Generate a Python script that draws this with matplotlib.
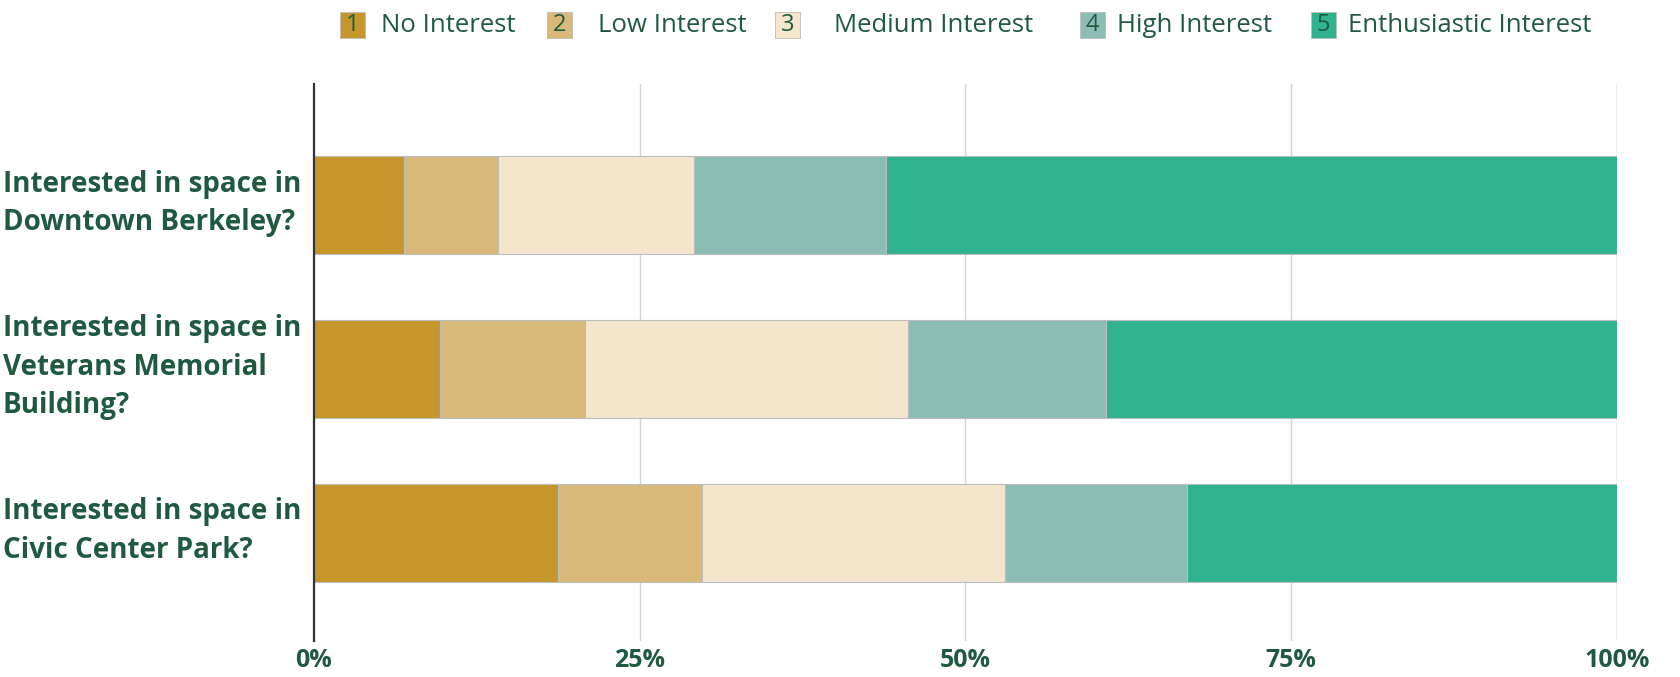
import matplotlib.pyplot as plt
from matplotlib.patches import Rectangle
from matplotlib.transforms import ScaledTranslation
import numpy as np

# data (percent of respondents)
questions = [
    "Interested in space in\nDowntown Berkeley?",
    "Interested in space in\nVeterans Memorial\nBuilding?",
    "Interested in space in\nCivic Center Park?",
]
levels = ["No Interest", "Low Interest", "Medium Interest", "High Interest", "Enthusiastic Interest"]
no_interest = [6.9, 9.7, 18.7]
low_interest = [7.2, 11.1, 11.1]
medium_interest = [15.1, 24.8, 23.2]
high_interest = [14.7, 15.2, 14.0]
enthusiastic_interest = [56.1, 39.2, 33.0]
xticks = [0, 25, 50, 75, 100]

colors = ["#C4962C", "#D8B97A", "#F4E6CC", "#8BBDB4", "#2EB38E"]
text_color = "#1F5A3F"
font = "Open Sans"

series = [no_interest, low_interest, medium_interest, high_interest, enthusiastic_interest]

fig = plt.figure(figsize=(16.81, 6.77), dpi=100)
ax = fig.add_axes([314 / 1681, 1 - 641 / 677, (1617 - 314) / 1681, (641 - 84) / 677])

y = np.arange(len(questions))
left = np.zeros(len(questions))
for vals, c in zip(series, colors):
    ax.barh(y, vals, left=left, height=0.6, color=c, edgecolor="#BDBDBD", linewidth=0.8, zorder=3)
    left += np.array(vals)

ax.set_xlim(0, 100)
ax.set_ylim(2.66, -0.74)
ax.set_xticks(xticks)
ax.set_xticklabels([f"{t}%" for t in xticks], fontsize=18, fontweight="bold",
                   color=text_color, family=font)
ax.tick_params(axis="x", length=0, pad=5)
for t in xticks[1:]:
    ax.axvline(t, color="#D3D3D3" if t < 100 else "#A0A0A0", linewidth=1, zorder=1)

ax.set_yticks(y)
ax.set_yticklabels(questions, fontsize=20, fontweight="bold", color=text_color,
                   family=font, ha="left", linespacing=1.43)
ax.tick_params(axis="y", length=0, pad=224)
shift = ScaledTranslation(0, 10 / 100, fig.dpi_scale_trans)
for lbl in ax.get_yticklabels():
    lbl.set_transform(lbl.get_transform() + shift)

for s in ["top", "right", "bottom"]:
    ax.spines[s].set_visible(False)
ax.spines["left"].set_color("#333333")
ax.spines["left"].set_linewidth(1.6)
ax.spines["left"].set_zorder(4)

# legend across the top with numbered swatches
sq_left = [340, 547, 775, 1080, 1311]
txt_left = [381, 598, 834, 1117, 1348]
sq = 25
yc = 677 - 25
for i, (lab, c, xl, xt) in enumerate(zip(levels, colors, sq_left, txt_left)):
    fig.patches.append(Rectangle((xl / 1681, (yc - sq / 2) / 677), sq / 1681, sq / 677,
                                 transform=fig.transFigure, facecolor=c,
                                 edgecolor="#BDBDBD", linewidth=0.6))
    fig.text((xl + sq / 2) / 1681, yc / 677, str(i + 1), ha="center", va="center",
             fontsize=17, color=text_color, family=font)
    fig.text(xt / 1681, yc / 677, lab, ha="left", va="center",
             fontsize=18.5, color=text_color, family=font)

fig.savefig("out.png", dpi=100)
